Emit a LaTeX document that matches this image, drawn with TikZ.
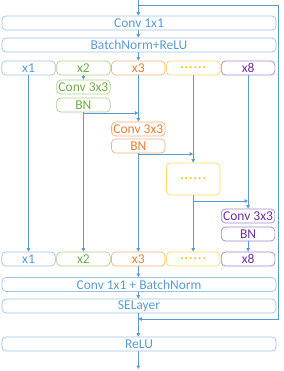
\documentclass[tikz,border=0pt]{standalone}
\usepackage{fontspec}
\setmainfont{Carlito}
\usetikzlibrary{arrows.meta}
\definecolor{ln}{HTML}{5B9BD5}
\definecolor{bbd}{HTML}{9DC3E6}
\definecolor{gtx}{HTML}{70AD47}
\definecolor{gbd}{HTML}{A9D18E}
\definecolor{otx}{HTML}{ED7D31}
\definecolor{obd}{HTML}{F4B183}
\definecolor{ytx}{HTML}{FFC000}
\definecolor{ybd}{HTML}{FFD966}
\definecolor{ptx}{HTML}{7030A0}
\definecolor{pbd}{HTML}{A582CC}
\newcommand{\mydots}{\textbf{\fontsize{13}{13}\selectfont .\kern1pt.\kern1pt.\kern1pt.\kern1pt.\kern1pt.}}
\begin{document}
\begin{tikzpicture}[x=1pt,y=-1pt,
  bx/.style={draw, rounded corners=4pt, line width=0.7pt, minimum height=14pt, inner sep=0pt, font=\fontsize{13.5}{14}\selectfont},
  wide/.style={bx, draw=bbd, text=ln, minimum width=274pt},
  cell/.style={bx, minimum width=53.5pt},
  bluec/.style={draw=bbd, text=ln},
  greenc/.style={draw=gbd, text=gtx},
  orangec/.style={draw=obd, text=otx},
  yellowc/.style={draw=ybd, text=ytx},
  purplec/.style={draw=pbd, text=ptx},
  conn/.style={draw=ln, line width=0.8pt},
  arr/.style={conn, -{Triangle[length=3.5pt,width=3.5pt]}}
]
\useasboundingbox (0,0) rectangle (283,371);

\coordinate (in) at (138.3,0);
\coordinate (rs) at (138.3,5);
\coordinate (rr) at (278,5);
\coordinate (rb) at (278,319);
\coordinate (rj) at (138.3,319);
\coordinate (out) at (138.3,369);

\node[wide] (c1) at (139,23) {Conv 1x1};
\node[wide] (bnr) at (139,45) {BatchNorm+ReLU};

\node[cell,bluec] (a1) at (28.5,68) {x1};
\node[cell,greenc] (a2) at (83.4,68) {x2};
\node[cell,orangec] (a3) at (138.3,68) {x3};
\node[cell,yellowc] (a4) at (193.2,68) {\mydots};
\node[cell,purplec] (a8) at (248.1,68) {x8};

\node[cell,greenc] (gc) at (83.4,87) {Conv 3x3};
\node[cell,greenc] (gb) at (83.4,105) {BN};
\node[cell,orangec] (oc) at (138.3,129) {Conv 3x3};
\node[cell,orangec] (ob) at (138.3,146) {BN};
\node[cell,yellowc,minimum height=32pt] (yb) at (193.2,179) {\mydots};
\node[cell,purplec] (pc) at (248.1,216) {Conv 3x3};
\node[cell,purplec] (pb) at (248.1,234) {BN};

\node[cell,bluec] (b1) at (28.5,259) {x1};
\node[cell,greenc] (b2) at (83.4,259) {x2};
\node[cell,orangec] (b3) at (138.3,259) {x3};
\node[cell,yellowc] (b4) at (193.2,259) {\mydots};
\node[cell,purplec] (b8) at (248.1,259) {x8};

\node[wide] (cb) at (139,284.5) {Conv 1x1 + BatchNorm};
\node[wide] (se) at (139,306) {SELayer};
\node[wide] (re) at (139,344) {ReLU};

% main trunk
\draw[arr] (in) -- (in |- c1.north);
\draw[arr] (c1.south -| in) -- (in |- bnr.north);
\draw[arr] (bnr.south -| in) -- (in |- a3.north);
% residual
\draw[arr] (rs) -- (rr) -- (rb) -- (rj);
% columns
\draw[arr] (a1.south) -- (b1.north);
\draw[arr] (a2.south) -- (gc.north);
\draw[arr] (gb.south) -- (b2.north);
\draw[arr] (a3.south) -- (oc.north);
\draw[arr] (ob.south) -- (b3.north);
\draw[arr] (a4.south) -- (yb.north);
\draw[arr] (yb.south) -- (b4.north);
\draw[arr] (a8.south) -- (pc.north);
\draw[arr] (pb.south) -- (b8.north);
% hierarchical joins
\coordinate (j1) at (83.4,113);
\coordinate (j2) at (138.3,154);
\coordinate (j3) at (193.2,201);
\draw[arr] (j1) -- (j1 -| a3.south);
\draw[arr] (j2) -- (j2 -| a4.south);
\draw[arr] (j3) -- (j3 -| a8.south);
% bottom trunk
\draw[arr] (b3.south) -- (b3.south |- cb.north);
\draw[arr] (cb.south -| in) -- (in |- se.north);
\draw[arr] (se.south -| in) -- (in |- re.north);
\draw[arr] (re.south -| in) -- (out);
\end{tikzpicture}
\end{document}
